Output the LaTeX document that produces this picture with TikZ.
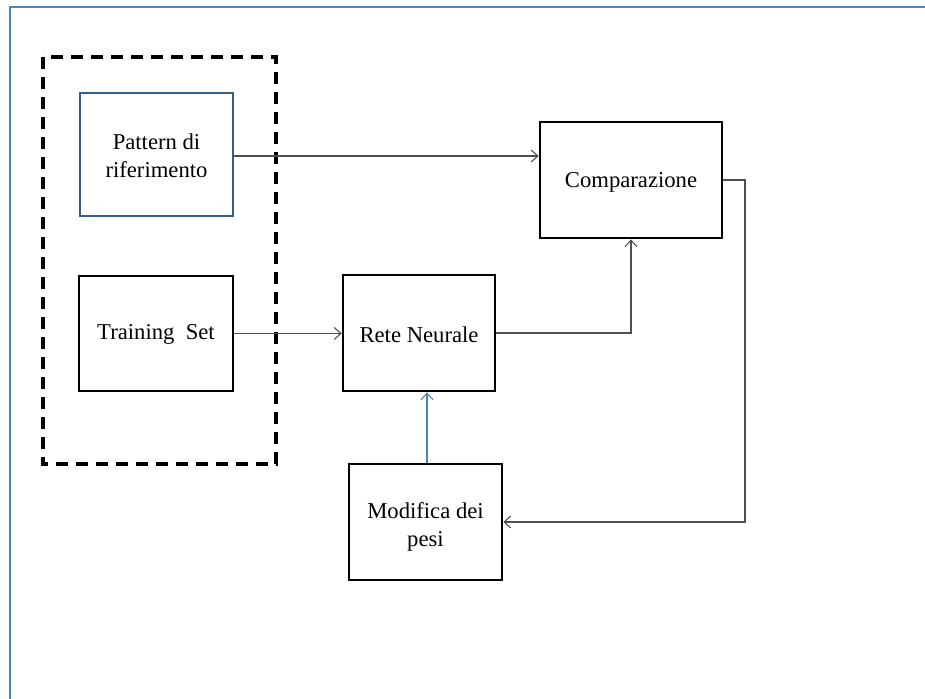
\documentclass[tikz,border=0pt]{standalone}
\usepackage{fontspec}
\setmainfont{Liberation Serif}
\usetikzlibrary{arrows.meta}
\definecolor{frameblue}{RGB}{79,129,189}
\definecolor{boxblue}{RGB}{56,93,138}
\definecolor{linkgray}{RGB}{80,80,80}
\begin{document}
\begin{tikzpicture}[x=0.75pt,y=-0.75pt,
  block/.style={draw=black,line width=2pt,fill=white,inner sep=0pt},
  lbl/.style={align=center,inner sep=0pt,font=\fontsize{17}{21}\selectfont},
  link/.style={draw=linkgray,line width=0.8pt,-{Straight Barb[length=5pt,width=9pt,line width=0.8pt]}},
  bluelink/.style={link,draw=frameblue},
  group/.style={draw=black,line width=2.3pt,dash pattern=on 9pt off 6pt}]
  \useasboundingbox (0,0) rectangle (925,699);
  % page frame
  \draw[frameblue,line width=1.8pt] (930,7) -- (10,7) -- (10,705);
  % grouping of the input data
  \draw[group] (43,57) rectangle (276,464);
  % blocks
  \node[block,draw=boxblue,minimum width=153*0.75pt,minimum height=123*0.75pt,
    label={[lbl,yshift=-0.8pt]center:{Pattern di\\riferimento}}] (pattern) at (156.5,154.5) {};
  \node[block,minimum width=154*0.75pt,minimum height=115*0.75pt,
    label={[lbl,yshift=-1pt]center:{Training\ \ Set}}] (training) at (156,333.5) {};
  \node[block,minimum width=152*0.75pt,minimum height=116*0.75pt,
    label={[lbl,yshift=-1pt]center:{Rete Neurale}}] (rete) at (419,333) {};
  \node[block,minimum width=182*0.75pt,minimum height=116*0.75pt,
    label={[lbl,yshift=-2pt]center:{Comparazione}}] (comp) at (631,180) {};
  \node[block,minimum width=153*0.75pt,minimum height=116*0.75pt,
    label={[lbl,yshift=-3.5pt]center:{Modifica dei\\pesi}}] (modifica) at (425.5,522) {};
  \coordinate (xm) at (427,0);
  \coordinate (xr) at (745,0);
  \coordinate (ya) at (0,156);
  % connections
  \draw[link] (pattern.east |- ya) -- (comp.west |- ya);
  \draw[link] (training.east) -- (training.east -| rete.west);
  \draw[link] (rete.east) -| (comp.south);
  \draw[link] (comp.east) -- (comp.east -| xr) |- (modifica.east);
  \draw[bluelink] (modifica.north -| xm) -- (rete.south -| xm);
\end{tikzpicture}
\end{document}
